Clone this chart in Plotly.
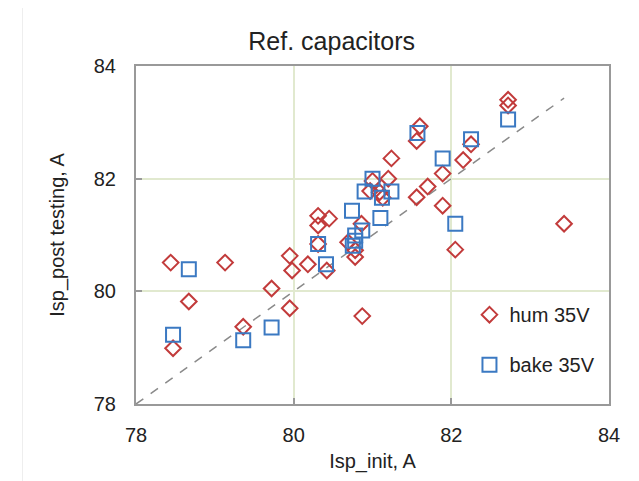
import plotly.graph_objects as go

# hum 35V (open diamonds)
hum_init = [78.44, 78.47, 78.67, 79.13, 79.36, 79.72, 79.95, 79.95, 79.98, 80.18,
            80.31, 80.31, 80.31, 80.42, 80.45, 80.69, 80.78, 80.78, 80.86, 80.87,
            80.97, 81.00, 81.09, 81.13, 81.20, 81.24, 81.56, 81.56, 81.60, 81.70,
            81.89, 81.89, 82.05, 82.15, 82.25, 82.72, 82.72, 83.43]
hum_post = [80.51, 78.99, 79.82, 80.51, 79.37, 80.05, 79.70, 80.63, 80.37, 80.48,
            80.84, 81.17, 81.34, 80.37, 81.29, 80.87, 80.73, 80.61, 81.20, 79.56,
            81.78, 81.96, 81.76, 81.66, 82.00, 82.36, 81.67, 82.67, 82.93, 81.86,
            81.52, 82.09, 80.74, 82.33, 82.61, 83.30, 83.40, 81.20]

# bake 35V (open squares)
bake_init = [78.47, 78.67, 79.36, 79.72, 80.31, 80.41, 80.74, 80.75, 80.78, 80.78,
             80.87, 80.90, 81.00, 81.10, 81.12, 81.24, 81.57, 81.89, 82.05, 82.25, 82.72]
bake_post = [79.23, 80.39, 79.13, 79.36, 80.84, 80.48, 81.43, 80.81, 80.90, 80.99,
             81.08, 81.77, 82.00, 81.30, 81.66, 81.77, 82.81, 82.36, 81.20, 82.70, 83.05]

# y = x reference line
ref_x = [78, 83.43]
ref_y = [78, 83.43]

font = "Liberation Sans, Arial, sans-serif"
axis_col = "#999999"
grid_col = "#e1e9cf"

fig = go.Figure()

fig.add_trace(go.Scatter(
    x=ref_x, y=ref_y, mode="lines", showlegend=False, hoverinfo="skip",
    line=dict(color="#8a8a8a", width=1.5, dash="dash"),
))

fig.add_trace(go.Scatter(
    x=hum_init, y=hum_post, mode="markers", name="hum 35V", legendgroup="hum",
    marker=dict(symbol="diamond-open", size=12, color="#c23b3b", line=dict(width=2)),
))

fig.add_trace(go.Scatter(
    x=bake_init, y=bake_post, mode="markers", name="bake 35V", legendgroup="bake",
    marker=dict(symbol="square-open", size=14, color="#3b79c2", line=dict(width=2)),
))

# page body has an 8px margin, so the figure is a bit smaller than the window
fig.update_layout(
    width=631, height=473,
    margin=dict(l=128, r=30, t=58, b=77),
    paper_bgcolor="white", plot_bgcolor="white",
    font=dict(family=font, size=20, color="#222222"),
    title=dict(text="Ref. capacitors", x=0.513, xanchor="center", xref="container",
               y=0.93, yanchor="middle", yref="container",
               font=dict(size=25, color="#222222")),
    legend=dict(x=0.705, y=0.322, xanchor="left", yanchor="top",
                bgcolor="white", borderwidth=0, tracegroupgap=21,
                font=dict(size=20, color="#222222")),
    shapes=[dict(type="rect", xref="paper", yref="paper",
                 x0=-0.24, x1=1.2, y0=-0.3, y1=1.178,
                 line=dict(color="#eeeeee", width=1), fillcolor="rgba(0,0,0,0)",
                 layer="below")],
)

fig.update_xaxes(
    range=[78, 84], dtick=2, tick0=78,
    showgrid=True, gridcolor=grid_col, gridwidth=1.5, zeroline=False,
    showline=True, linecolor=axis_col, linewidth=2, mirror=True,
    ticks="inside", ticklen=6, tickcolor=axis_col, tickwidth=2,
    ticklabelstandoff=12,
    title=dict(text="Isp_init, A", standoff=9, font=dict(size=20)),
)

fig.update_yaxes(
    range=[78, 84], dtick=2, tick0=78,
    showgrid=True, gridcolor=grid_col, gridwidth=1.5, zeroline=False,
    showline=True, linecolor=axis_col, linewidth=2, mirror=True,
    ticks="inside", ticklen=6, tickcolor=axis_col, tickwidth=2,
    ticklabelstandoff=14,
    title=dict(text="Isp_post testing, A", standoff=24, font=dict(size=20)),
)

fig.write_html("out.html")
